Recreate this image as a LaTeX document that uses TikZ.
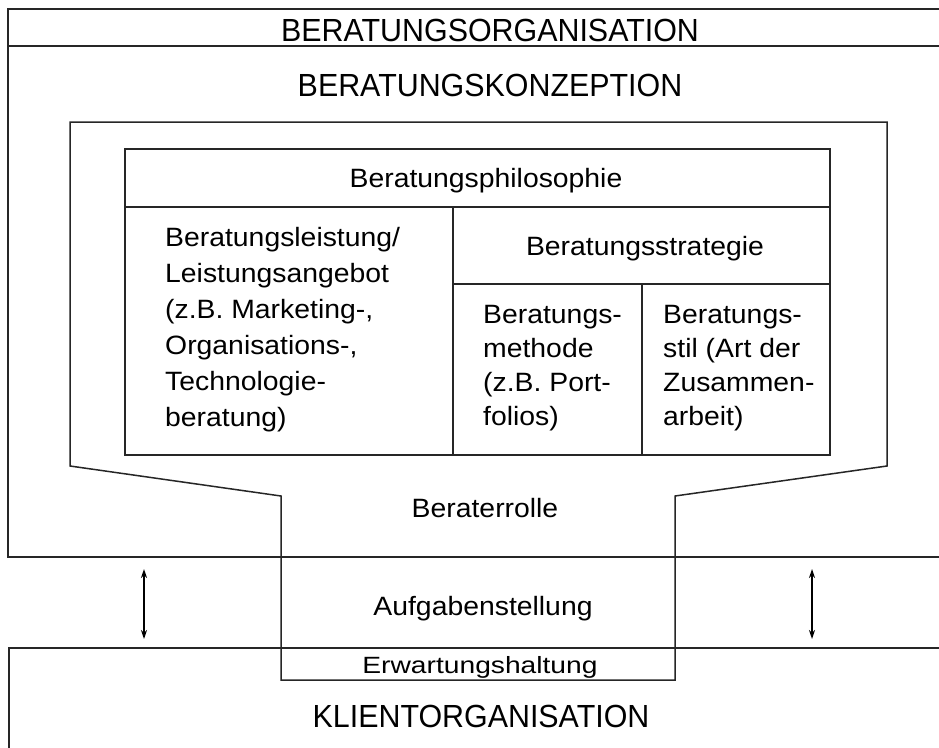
\documentclass[tikz,border=0pt]{standalone}
\usepackage{fontspec}
\setmainfont{Liberation Sans}
\newfontfamily\bodyfont{Liberation Sans}[FakeStretch=1.07]
\newfontfamily\titlefont{Liberation Sans}[FakeStretch=0.95]
\newfontfamily\squatfont{Liberation Sans}[FakeStretch=1.2]
\usetikzlibrary{arrows.meta}
\tikzset{
  frame/.style={draw=black!85, line width=1.5pt},
  grid/.style={draw=black!85, line width=1.4pt},
  title/.style={font=\titlefont\fontsize{32}{38}\selectfont, inner sep=0pt, anchor=base},
  body/.style={font=\bodyfont\fontsize{26.5}{36}\selectfont, inner sep=0pt, anchor=base},
  cellL/.style={font=\bodyfont\fontsize{26.5}{36}\selectfont, inner sep=0pt, anchor=base west},
  cellM/.style={font=\bodyfont\fontsize{26.5}{34}\selectfont, inner sep=0pt, anchor=base west},
  squat/.style={font=\squatfont\fontsize{23.5}{30}\selectfont, inner sep=0pt, anchor=base},
  link/.style={line width=1.6pt, {Stealth[length=9pt,width=6pt]}-{Stealth[length=9pt,width=6pt]}}
}
\begin{document}
\begin{tikzpicture}[x=1pt, y=-1pt]
  \clip (0,0) rectangle (939,747);
  \fill[white] (0,0) rectangle (939,747);

  % consulting organisation (open to the right)
  \draw[frame] (960,9) -- (8,9) -- (8,557) -- (960,557);
  \draw[frame] (8,46) -- (960,46);

  % client organisation (open to the right and below)
  \draw[frame] (960,648) -- (9,648) -- (9,760);

  % funnel: consulting concept narrowing into the consultant role
  \draw[frame] (281,680) -- (281,496) -- (70,466) -- (70,122) -- (887,122)
               -- (887,466) -- (675,496) -- (675,680) -- cycle;

  % table of concept elements
  \coordinate (tNW) at (125,149);
  \coordinate (tSE) at (830,455);
  \draw[grid] (tNW) rectangle (tSE);
  \draw[grid] (125,207) -- (830,207);
  \draw[grid] (453,207) -- (453,455);
  \draw[grid] (453,284) -- (830,284);
  \draw[grid] (642,284) -- (642,455);

  % titles
  \node[title] (org) at (490,41) {BERATUNGSORGANISATION};
  \node[title] (konz) at (490,96) {BERATUNGSKONZEPTION};
  \node[title] (klient) at (481,727) {KLIENTORGANISATION};

  % cell texts
  \node[body] (phil) at (486,187) {Beratungsphilosophie};
  \node[body] (strat) at (645,255) {Beratungsstrategie};
  \node[cellL] (leist) at (165,246) {\begin{tabular}[t]{@{}l@{}}Beratungsleistung/\\Leistungsangebot\\(z.B. Marketing-,\\Organisations-,\\Technologie-\\beratung)\end{tabular}};
  \node[cellM] (meth) at (483,323) {\begin{tabular}[t]{@{}l@{}}Beratungs-\\methode\\(z.B. Port-\\folios)\end{tabular}};
  \node[cellM] (stil) at (663,323) {\begin{tabular}[t]{@{}l@{}}Beratungs-\\stil (Art der\\Zusammen-\\arbeit)\end{tabular}};

  % funnel texts
  \node[body] (rolle) at (485,517) {Beraterrolle};
  \node[body] (aufg) at (483,615) {Aufgabenstellung};
  \node[squat] (erw) at (480,673) {Erwartungshaltung};

  % interaction arrows between the two organisations
  \coordinate (aT) at (144,569);
  \coordinate (aB) at (144,639);
  \coordinate (bT) at (812,569);
  \coordinate (bB) at (812,639);
  \draw[link] (aT) -- (aB);
  \draw[link] (bT) -- (bB);
\end{tikzpicture}
\end{document}
